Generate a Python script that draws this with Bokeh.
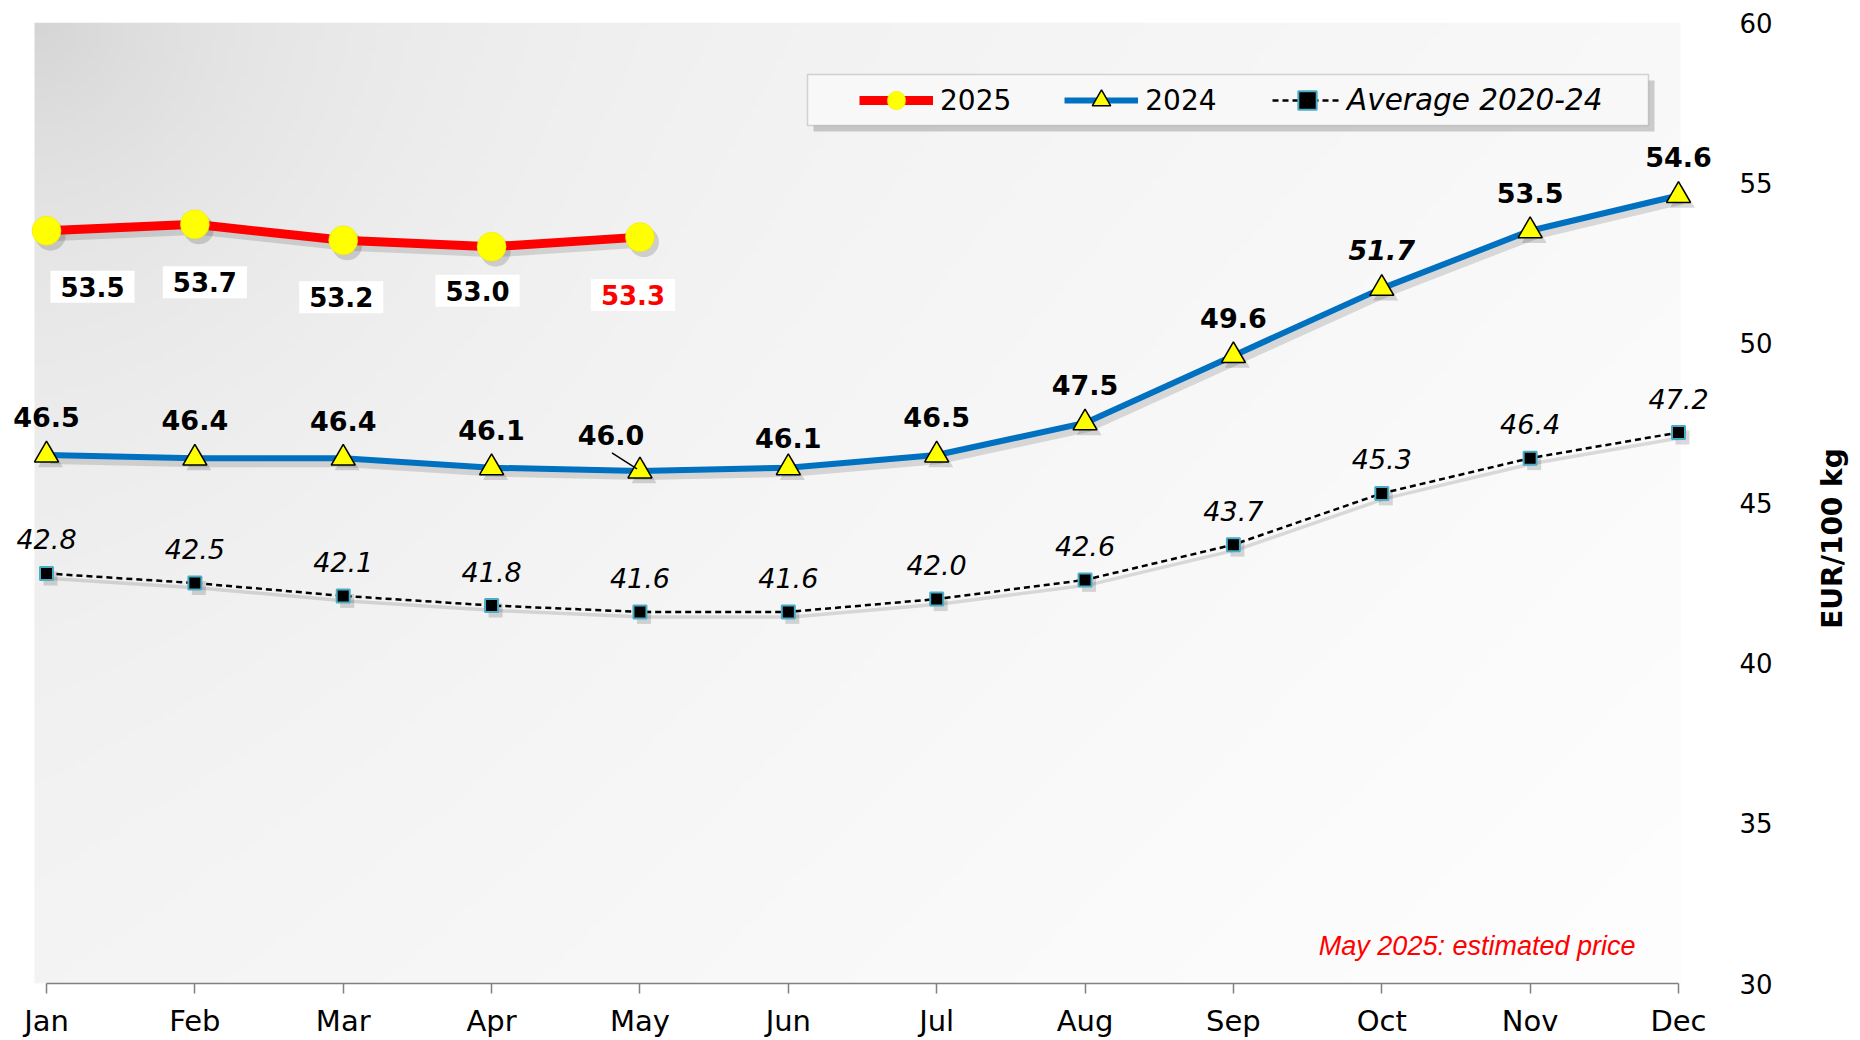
import numpy as np
from bokeh.plotting import figure
from bokeh.models import (ColumnDataSource, FixedTicker, Range1d, Legend, LegendItem,
                          BoxAnnotation, Label)
from bokeh.core.properties import value
from bokeh.embed import file_html
from bokeh.resources import INLINE

# ---------------- data ----------------
months = ["Jan", "Feb", "Mar", "Apr", "May", "Jun", "Jul", "Aug", "Sep", "Oct", "Nov", "Dec"]
vals_2025 = [53.5, 53.7, 53.2, 53.0, 53.3]
vals_2024 = [46.5, 46.4, 46.4, 46.1, 46.0, 46.1, 46.5, 47.5, 49.6, 51.7, 53.5, 54.6]
vals_avg = [42.8, 42.5, 42.1, 41.8, 41.6, 41.6, 42.0, 42.6, 43.7, 45.3, 46.4, 47.2]
y_ticks = [30, 35, 40, 45, 50, 55, 60]
note_text = "May 2025: estimated price"
axis_title = "EUR/100 kg"

# ---------------- layout (canvas pixels) ----------------
FONT = "DejaVu Sans"
W, H = 1860, 1040
X_JAN, X_DEC = 46, 1678          # pixel x of first / last month
FRAME_L, FRAME_R, FRAME_T, FRAME_B = 8, 1860, 22, 983
BG_L, BG_R = 34, 1680            # grey plot-area background
YLAB_X = 1739                    # left edge of the value-axis labels
y_start, y_end = 30, 60
px_x = (X_DEC - X_JAN) / 11.0
px_y = (FRAME_B - FRAME_T) / (y_end - y_start)
x_start = -(X_JAN - FRAME_L) / px_x
x_end = 11 + (FRAME_R - X_DEC) / px_x


def dx(px):
    return x_start + (px - FRAME_L) / px_x


def dy(py):
    return y_start + (FRAME_B - py) / px_y


xs = list(range(len(months)))
x25 = xs[:len(vals_2025)]

p = figure(width=W, height=H, x_range=Range1d(x_start, x_end), y_range=Range1d(y_start, y_end),
           output_backend="svg", toolbar_location=None, y_axis_location="right",
           min_border_left=FRAME_L, min_border_right=W - FRAME_R,
           min_border_top=FRAME_T, min_border_bottom=H - FRAME_B)
p.outline_line_color = None
p.background_fill_color = "white"
p.border_fill_color = "white"
p.xgrid.visible = False
p.ygrid.visible = False

# background gradient of the plot area
bw, bh = BG_R - BG_L, FRAME_B - FRAME_T
ny, nx = 160, 280
yy, xx = np.mgrid[0:ny, 0:nx]
fx = xx / (nx - 1) * bw
fy = (ny - 1 - yy) / (ny - 1) * bh
d = (fx + fy) / (bw + bh)
r = np.sqrt(fx ** 2 + fy ** 2)
v = 239 + 15 * d - 26 * np.exp(-r / 260.0)
v = np.clip(v, 0, 255).astype(np.uint32)
img = (255 << 24) | (v << 16) | (v << 8) | v
p.image_rgba(image=[img.astype(np.uint32)], x=dx(BG_L), y=y_start,
             dw=dx(BG_R) - dx(BG_L), dh=y_end - y_start)

# shadows
sdx = 4 / px_x
sdy = -5 / px_y
sh = dict(color="black", alpha=0.13)
p.line([x + sdx for x in xs], [y + sdy for y in vals_avg], line_width=3.5, **sh)
p.line([x + sdx for x in xs], [y + sdy for y in vals_2024], line_width=8, **sh)
p.line([x + sdx for x in x25], [y + sdy for y in vals_2025], line_width=11, **sh)
p.scatter([x + sdx for x in x25], [y + sdy for y in vals_2025], size=30, marker="circle",
          fill_color="black", fill_alpha=0.15, line_color=None)
p.scatter([x + sdx for x in xs], [y + sdy for y in vals_2024], size=25, marker="triangle",
          fill_color="black", fill_alpha=0.15, line_color=None)
p.scatter([x + sdx for x in xs], [y + sdy for y in vals_avg], size=14, marker="square",
          fill_color="black", fill_alpha=0.15, line_color=None)

# average 2020-24
r_avg_line = p.line(xs, vals_avg, line_color="black", line_width=2.5, line_dash="6 4")
r_avg_pt = p.scatter(xs, vals_avg, marker="square", size=13, fill_color="black",
                     line_color="#4BACC6", line_width=2)

# 2024
r24_line = p.line(xs, vals_2024, line_color="#0070C0", line_width=6)
r24_pt = p.scatter(xs, vals_2024, marker="triangle", size=24, fill_color="#FFFF00",
                   line_color="black", line_width=1.5)

# 2025
r25_line = p.line(x25, vals_2025, line_color="#FF0000", line_width=9)
r25_pt = p.scatter(x25, vals_2025, marker="circle", size=29, fill_color="#FFFF00",
                   line_color="#E6E600", line_width=0.5)

# ---------------- labels ----------------
# average labels
p.text(x=xs, y=vals_avg, text=[f"{v_:.1f}" for v_ in vals_avg], y_offset=-34,
       text_align="center", text_baseline="middle", text_font=value(FONT),
       text_font_style="italic", text_font_size="27px", text_color="black")

# 2024 labels
off24_x = [0, 0, 0, 0, -29, 0, 0, 0, 0, 0, 0, 0]
off24_y = [-38, -38, -37, -38, -36, -30, -38, -38, -38, -38, -38, -38]
style24 = ["bold"] * 9 + ["bold italic"] + ["bold"] * 2
src24 = ColumnDataSource(dict(x=xs, y=vals_2024, t=[f"{v_:.1f}" for v_ in vals_2024],
                              xo=off24_x, yo=off24_y, st=style24))
p.text(x="x", y="y", text="t", x_offset="xo", y_offset="yo", text_font_style="st",
       source=src24, text_align="center", text_baseline="middle", text_font=value(FONT),
       text_font_size="27px", text_color="black")
# leader line for May 2024
i_may = 4
p.segment(x0=[xs[i_may] - 28 / px_x], y0=[vals_2024[i_may] + 18 / px_y],
          x1=[xs[i_may] - 3 / px_x], y1=[vals_2024[i_may] + 2 / px_y],
          line_color="black", line_width=1.5)

# 2025 labels
off25_x = [46, 10, -2, -14, -7]
off25_y = [56, 58, 57, 44, 58]
col25 = ["black"] * (len(vals_2025) - 1) + ["#FF0000"]
src25 = ColumnDataSource(dict(x=x25, y=vals_2025, t=[f"{v_:.1f}" for v_ in vals_2025],
                              xo=off25_x, yo=off25_y, c=col25))
p.text(x="x", y="y", text="t", x_offset="xo", y_offset="yo", text_color="c", source=src25,
       text_align="center", text_baseline="middle", text_font=value(FONT),
       text_font_style="bold", text_font_size="26px",
       background_fill_color="white", padding=(10, 6))

# note
p.add_layout(Label(x=dx(1635), y=dy(945), text=note_text, text_align="right",
                   text_baseline="middle", text_font="Liberation Sans",
                   text_font_style="italic", text_font_size="27px", text_color="#FF0000"))

# value-axis title (reads bottom to top)
p.text(x=[dx(1832)], y=[dy(538)], text=[axis_title], angle=np.pi / 2,
       text_align="center", text_baseline="middle", text_font=value(FONT),
       text_font_style="bold", text_font_size="28px", text_color="black")

# ---------------- axes ----------------
xa = p.xaxis[0]
xa.ticker = FixedTicker(ticks=xs)
xa.bounds = (xs[0], xs[-1])
xa.major_label_overrides = {i: m for i, m in enumerate(months)}
xa.axis_line_color = "#808080"
xa.axis_line_width = 1.5
xa.major_tick_line_color = "#808080"
xa.major_tick_line_width = 1.5
xa.major_tick_out = 10
xa.major_tick_in = 0
xa.minor_tick_line_color = None
xa.major_label_standoff = 10
xa.major_label_text_font = FONT
xa.major_label_text_font_size = "29px"
xa.major_label_text_color = "black"

ya = p.yaxis[0]
ya.ticker = FixedTicker(ticks=y_ticks)
ya.axis_line_color = None
ya.major_tick_line_color = None
ya.minor_tick_line_color = None
ya.major_tick_out = 0
ya.major_tick_in = 0
ya.major_label_standoff = YLAB_X - FRAME_R
ya.major_label_text_font = FONT
ya.major_label_text_font_size = "26px"
ya.major_label_text_color = "black"

# ---------------- legend ----------------
p.add_layout(BoxAnnotation(left=dx(813), right=dx(1654), top=dy(80), bottom=dy(131),
                           fill_color="black", fill_alpha=0.18, line_color=None))
p.add_layout(BoxAnnotation(left=dx(807), right=dx(1648), top=dy(74), bottom=dy(125),
                           fill_color="#f8f8f8", fill_alpha=1.0, line_color="#7f7f7f",
                           line_width=1.5))

LEG_H = 46
common = dict(orientation="horizontal", glyph_height=LEG_H, label_height=LEG_H, padding=0,
              margin=0, background_fill_alpha=0, border_line_alpha=0, label_text_font=FONT,
              label_text_baseline="middle", label_text_color="black")
leg_bottom = FRAME_B - (100 + LEG_H / 2)
leg1 = Legend(items=[LegendItem(label="2025", renderers=[r25_line, r25_pt]),
                     LegendItem(label="2024", renderers=[r24_line, r24_pt])],
              location=(859 - FRAME_L, leg_bottom), glyph_width=74, label_standoff=7,
              spacing=53, label_text_font_size="28px", **common)
leg2 = Legend(items=[LegendItem(label="Average 2020-24", renderers=[r_avg_line, r_avg_pt])],
              location=(1272 - FRAME_L, leg_bottom), glyph_width=70, label_standoff=5,
              label_text_font_style="italic", label_text_font_size="29.5px", **common)
p.add_layout(leg1)
p.add_layout(leg2)

open("out.html", "w").write(file_html(p, INLINE))
